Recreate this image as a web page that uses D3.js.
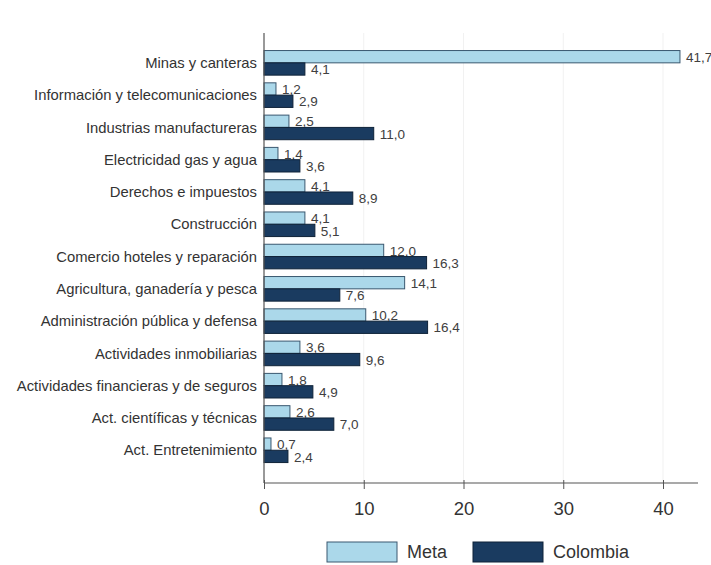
<!DOCTYPE html>
<html>
<head>
<meta charset="utf-8">
<script src="https://cdn.jsdelivr.net/npm/d3@7"></script>
<style>
  html, body { margin: 0; padding: 0; background: #ffffff; }
  svg { display: block; }
  text { font-family: "Liberation Sans", Arial, sans-serif; }
</style>
</head>
<body>
<svg id="chart" width="711" height="565"></svg>
<script>
const categories = [
  "Minas y canteras",
  "Información y telecomunicaciones",
  "Industrias manufactureras",
  "Electricidad gas y agua",
  "Derechos e impuestos",
  "Construcción",
  "Comercio hoteles y reparación",
  "Agricultura, ganadería y pesca",
  "Administración pública y defensa",
  "Actividades inmobiliarias",
  "Actividades financieras y de seguros",
  "Act. científicas y técnicas",
  "Act. Entretenimiento"
];
const metaValues =     [41.7, 1.2, 2.5, 1.4, 4.1, 4.1, 12.0, 14.1, 10.2, 3.6, 1.8, 2.6, 0.7];
const colombiaValues = [4.1, 2.9, 11.0, 3.6, 8.9, 5.1, 16.3, 7.6, 16.4, 9.6, 4.9, 7.0, 2.4];
const seriesNames = ["Meta", "Colombia"];
const xTicks = [0, 10, 20, 30, 40];

const colors = { Meta: "#abd8ea", Colombia: "#1a3b60" };
const strokes = { Meta: "#3a5870", Colombia: "#0e2238" };

const svg = d3.select("#chart");

const x = d3.scaleLinear().domain([0, 40]).range([264, 663]);
const y = d3.scaleBand().domain(categories).range([46.7, 466.4])
  .paddingInner(0.238).paddingOuter(0.119);
const sub = d3.scaleBand().domain(seriesNames).range([0, y.bandwidth()]);

const fmt = v => d3.format(".1f")(v).replace(".", ",");

// grid lines
svg.append("g").selectAll("line").data(xTicks.filter(d => d > 0)).join("line")
  .attr("x1", d => x(d)).attr("x2", d => x(d))
  .attr("y1", 33).attr("y2", 483)
  .attr("stroke", "#f1f1f1").attr("stroke-width", 1);

const rows = categories.map((c, i) => ({ c, Meta: metaValues[i], Colombia: colombiaValues[i] }));

const g = svg.append("g");
seriesNames.forEach(s => {
  g.selectAll("rect." + s).data(rows).join("rect")
    .attr("class", s)
    .attr("x", x(0))
    .attr("y", d => y(d.c) + sub(s))
    .attr("width", d => x(d[s]) - x(0))
    .attr("height", sub.bandwidth())
    .attr("fill", colors[s])
    .attr("stroke", strokes[s])
    .attr("stroke-width", 1);
  g.selectAll("text." + s).data(rows).join("text")
    .attr("class", s)
    .attr("x", d => x(d[s]) + 6)
    .attr("y", d => y(d.c) + sub(s) + sub.bandwidth() - 1)
    .attr("font-size", "13.5px")
    .attr("fill", "#404040")
    .text(d => fmt(d[s]));
});

// category labels
svg.append("g").selectAll("text").data(categories).join("text")
  .attr("x", 257)
  .attr("y", d => y(d) + y.bandwidth() / 2)
  .attr("dy", "0.35em")
  .attr("text-anchor", "end")
  .attr("font-size", "14.8px")
  .attr("fill", "#333")
  .text(d => d);

// y axis line
svg.append("line")
  .attr("x1", x(0)).attr("x2", x(0))
  .attr("y1", 33).attr("y2", 483)
  .attr("stroke", "#555").attr("stroke-width", 1.2);

// x axis
const xAxis = d3.axisBottom(x).tickValues(xTicks).tickSize(6).tickPadding(13).tickFormat(d3.format("d"));
const ax = svg.append("g").attr("transform", "translate(0,483)").call(xAxis);
ax.select(".domain").remove();
ax.append("line").attr("x1", x(0)).attr("x2", 698).attr("y1", 0).attr("y2", 0)
  .attr("stroke", "#555").attr("stroke-width", 1.2);
ax.selectAll(".tick line").attr("stroke", "#555").attr("y1", -3);
ax.selectAll(".tick text")
  .attr("font-family", "'Liberation Sans', Arial, sans-serif")
  .attr("font-size", "18.5px").attr("fill", "#333");

// legend
const legend = svg.append("g");
const legendItems = [
  { s: "Meta", rx: 327, tx: 407 },
  { s: "Colombia", rx: 473, tx: 553 }
];
legend.selectAll("rect").data(legendItems).join("rect")
  .attr("x", d => d.rx).attr("y", 542).attr("width", 70).attr("height", 20)
  .attr("fill", d => colors[d.s]).attr("stroke", d => strokes[d.s]).attr("stroke-width", 1);
legend.selectAll("text").data(legendItems).join("text")
  .attr("x", d => d.tx).attr("y", 552).attr("dy", "0.35em")
  .attr("font-size", "18px").attr("fill", "#333")
  .text(d => d.s);
</script>
</body>
</html>
